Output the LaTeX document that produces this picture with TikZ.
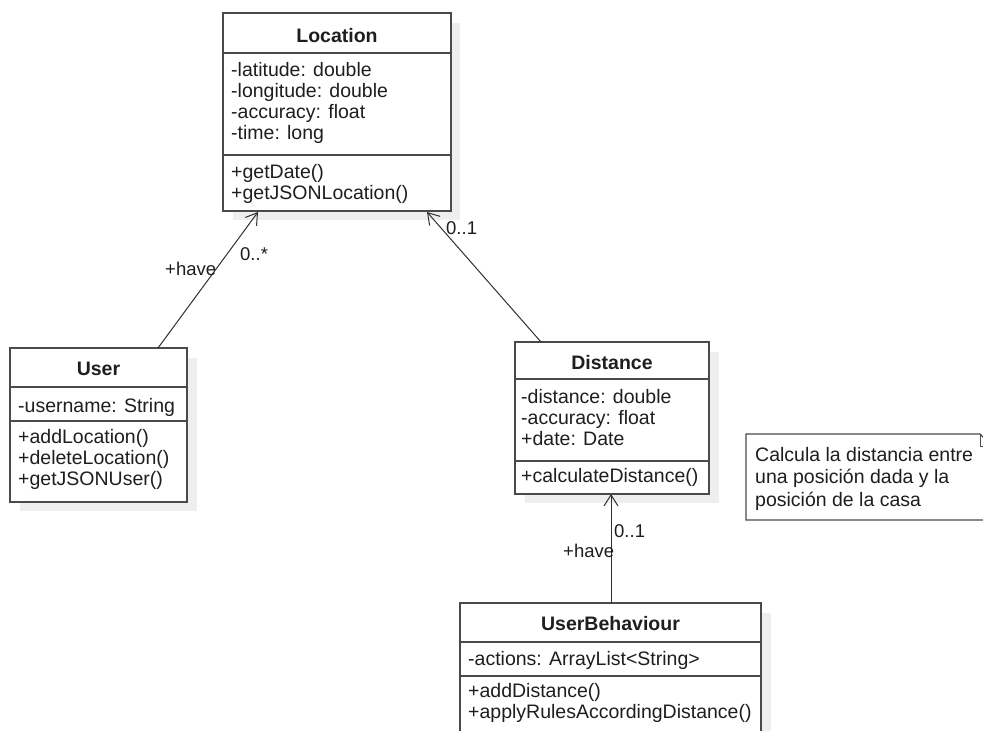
\documentclass[tikz,border=0pt]{standalone}
\usepackage{fontspec}
\setmainfont{Liberation Sans}
\usetikzlibrary{arrows.meta,calc}
\definecolor{boxline}{HTML}{4A4A4A}
\definecolor{shadowc}{HTML}{EEEEEE}
\definecolor{txt}{HTML}{1E1E1E}
\definecolor{linec}{HTML}{303030}
\begin{document}
\begin{tikzpicture}[x=1pt,y=-1pt,
  font=\fontsize{19.5}{21}\selectfont,
  classbox/.style={draw=boxline, line width=1.4pt, fill=white, inner sep=0pt, outer sep=0pt, anchor=north west, rectangle},
  sepline/.style={draw=boxline, line width=1.4pt},
  ln/.style={anchor=base west, inner sep=0pt, text=txt},
  ttl/.style={anchor=base, inner sep=0pt, text=txt, font=\fontsize{19.5}{21}\selectfont\bfseries},
  lbl/.style={anchor=base west, inner sep=0pt, text=txt, font=\fontsize{18.5}{21}\selectfont},
  assoc/.style={draw=linec, line width=1pt, -{Straight Barb[length=11pt,width=14pt,line width=1pt]}}
]
\useasboundingbox (0,0) rectangle (983,731);

% ---------- shadows ----------
\fill[shadowc] (233,23) rectangle (460,220);
\fill[shadowc] (20,358) rectangle (197,511);
\fill[shadowc] (525,352) rectangle (719,503);
\fill[shadowc] (470,613) rectangle (771,760);

% ---------- Location ----------
\node[classbox, minimum width=228pt, minimum height=198pt] (loc) at (223,13) {};
\draw[sepline] ($(loc.north west)+(0,40)$) -- ($(loc.north east)+(0,40)$);
\draw[sepline] ($(loc.north west)+(0,142)$) -- ($(loc.north east)+(0,142)$);
\node[ttl] (locT) at (337,42) {Location};
\node[ln] (loc1) at (231,76) {-latitude: double};
\node[ln] (loc2) at (231,97) {-longitude: double};
\node[ln] (loc3) at (231,118) {-accuracy: float};
\node[ln] (loc4) at (231,139) {-time: long};
\node[ln] (loc5) at (231,178) {+getDate()};
\node[ln] (loc6) at (231,199) {+getJSONLocation()};

% ---------- User ----------
\node[classbox, minimum width=177pt, minimum height=154pt] (user) at (10,348) {};
\draw[sepline] ($(user.north west)+(0,39)$) -- ($(user.north east)+(0,39)$);
\draw[sepline] ($(user.north west)+(0,73)$) -- ($(user.north east)+(0,73)$);
\node[ttl] (userT) at (98.5,375) {User};
\node[ln] (user1) at (18,412) {-username: String};
\node[ln] (user2) at (18,443) {+addLocation()};
\node[ln] (user3) at (18,464) {+deleteLocation()};
\node[ln] (user4) at (18,485) {+getJSONUser()};

% ---------- Distance ----------
\node[classbox, minimum width=194pt, minimum height=152pt] (dist) at (515,342) {};
\draw[sepline] ($(dist.north west)+(0,37)$) -- ($(dist.north east)+(0,37)$);
\draw[sepline] ($(dist.north west)+(0,119)$) -- ($(dist.north east)+(0,119)$);
\node[ttl] (distT) at (612,369) {Distance};
\node[ln] (dist1) at (521,403) {-distance: double};
\node[ln] (dist2) at (521,424) {-accuracy: float};
\node[ln] (dist3) at (521,445) {+date: Date};
\node[ln] (dist4) at (521,482) {+calculateDistance()};

% ---------- UserBehaviour ----------
\node[classbox, minimum width=301pt, minimum height=150pt] (ub) at (460,603) {};
\draw[sepline] ($(ub.north west)+(0,39)$) -- ($(ub.north east)+(0,39)$);
\draw[sepline] ($(ub.north west)+(0,73)$) -- ($(ub.north east)+(0,73)$);
\node[ttl] (ubT) at (610.5,630) {UserBehaviour};
\node[ln] (ub1) at (468,665) {-actions: ArrayList<String>};
\node[ln] (ub2) at (468,697) {+addDistance()};
\node[ln] (ub3) at (468,718) {+applyRulesAccordingDistance()};

% ---------- Note ----------
\draw[draw=boxline, line width=1.4pt, fill=white] (746,434) -- (980,434) -- (992,446) -- (992,520) -- (746,520) -- cycle;
\draw[draw=boxline, line width=1pt] (980,434) -- (980,446) -- (992,446);
\node[ln] (n1) at (755,461) {Calcula la distancia entre};
\node[ln] (n2) at (755,483) {una posición dada y la};
\node[ln] (n3) at (755,506) {posición de la casa};

% ---------- associations ----------
\draw[assoc] ($(user.north west)+(148,0)$) -- ($(loc.south west)+(35,1)$);
\draw[assoc] ($(dist.north west)+(26,0)$) -- ($(loc.south west)+(204,1)$);
\draw[assoc] ($(ub.north west)+(151,0)$) -- ($(dist.south west)+(96,0)$);

% ---------- labels ----------
\node[lbl] (a1) at (165,275) {+have};
\node[lbl] (a2) at (240,260) {0..*};
\node[lbl] (a3) at (446,234) {0..1};
\node[lbl] (a4) at (614,537) {0..1};
\node[lbl] (a5) at (563,557) {+have};
\end{tikzpicture}
\end{document}
